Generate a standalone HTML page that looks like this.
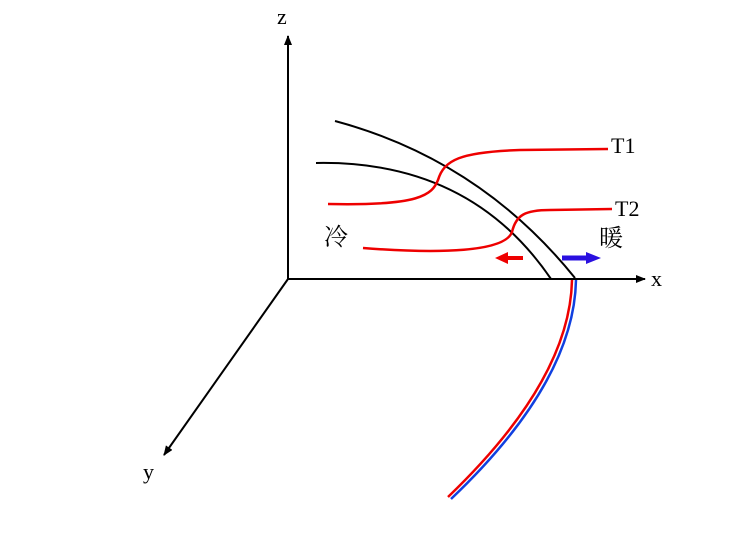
<!DOCTYPE html>
<html><head><style>body{margin:0;background:#fff}svg{display:block}text{font-family:"Liberation Serif","Noto Serif CJK SC",serif}</style></head>
<body>
<svg width="750" height="551" viewBox="0 0 750 551" xmlns="http://www.w3.org/2000/svg">
<defs>
<marker id="a" markerWidth="10" markerHeight="8" refX="9" refY="4" orient="auto" markerUnits="userSpaceOnUse"><path d="M0,0 L10,4 L0,8 Z" fill="#000"/></marker>
</defs>
<g stroke="#000" stroke-width="2" fill="none">
<line x1="288" y1="279" x2="288" y2="36" marker-end="url(#a)"/>
<line x1="288" y1="279" x2="645" y2="279" marker-end="url(#a)"/>
<line x1="288" y1="279" x2="164" y2="455" marker-end="url(#a)"/>
<path d="M335,121 Q480,160 575,278"/>
<path d="M316,163 Q470,160 551,279"/>
</g>
<g stroke="#e00" stroke-width="2.5" fill="none">
<path d="M328,204 C420,206 432,195 438,180 C444,160 460,152 520,150 L608,149"/>
<path d="M363,248 C440,254 505,252 512,232 C516,215 525,210 550,210 L612,209"/>
<path d="M572,280 Q570,380 448,497"/>
</g>
<path d="M576,280 Q574,382 451,499" stroke="#1040e0" stroke-width="2.5" fill="none"/>
<path d="M523,258 L507,258" stroke="#e00" stroke-width="4"/>
<path d="M495,258 L508,252 L508,264 Z" fill="#e00"/>
<path d="M562,258 L588,258" stroke="#2a10e0" stroke-width="5"/>
<path d="M601,258 L586,252 L586,264 Z" fill="#2a10e0"/>
<text x="277" y="24" font-size="22">z</text>
<text x="651" y="286" font-size="22">x</text>
<text x="143" y="479" font-size="22">y</text>
<text x="611" y="153" font-size="22">T1</text>
<text x="615" y="216" font-size="22">T2</text>
<text x="324" y="245" font-size="24">冷</text>
<text x="599" y="246" font-size="24">暖</text>
</svg>
</body></html>
